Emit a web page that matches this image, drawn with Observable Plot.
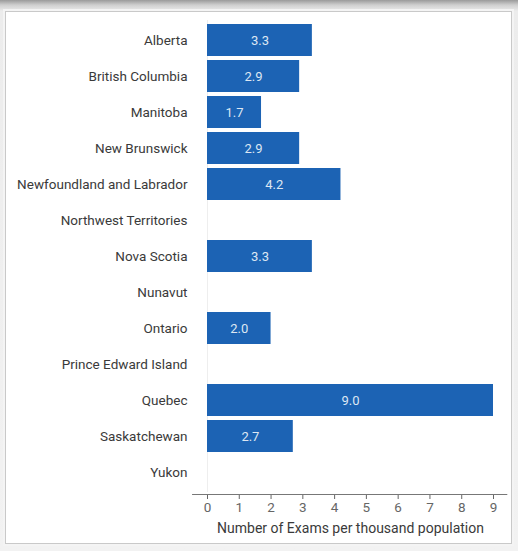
<!DOCTYPE html>
<html>
<head>
<meta charset="utf-8">
<script src="https://cdn.jsdelivr.net/npm/d3@7"></script>
<script src="https://cdn.jsdelivr.net/npm/@observablehq/plot@0.6"></script>
<style>
  html, body { margin: 0; padding: 0; width: 518px; height: 551px; overflow: hidden; }
  #frame { position: absolute; left: 0; top: 0; width: 518px; height: 551px;
    background: linear-gradient(to bottom, #9a9a9a 0px, #cfcfcf 5px, #ececec 11px, #f2f2f2 100%); }
  #panel { position: absolute; left: 5px; top: 11px; width: 505px; height: 531px;
    border: 1px solid #c9c9c9; background: #fff; box-shadow: 0 0 0 2px #f4f4f4; }
  #chart { position: absolute; left: 0; top: 0; }
  svg { font-family: Roboto, sans-serif; }
</style>
</head>
<body>
<div id="frame"><div id="panel"></div></div>
<div id="chart"></div>
<script>
const provinces = ["Alberta", "British Columbia", "Manitoba", "New Brunswick", "Newfoundland and Labrador",
  "Northwest Territories", "Nova Scotia", "Nunavut", "Ontario", "Prince Edward Island",
  "Quebec", "Saskatchewan", "Yukon"];
const values = [3.3, 2.9, 1.7, 2.9, 4.2, null, 3.3, null, 2.0, null, 9.0, 2.7, null];
const xTicks = [0, 1, 2, 3, 4, 5, 6, 7, 8, 9];
const xLabel = "Number of Exams per thousand population";

const data = provinces.map((p, i) => ({province: p, value: values[i]}));
const bars = data.filter(d => d.value != null);

const chart = Plot.plot({
  width: 518,
  height: 551,
  marginLeft: 207,
  marginRight: 25,
  marginTop: 20,
  marginBottom: 59,
  style: {background: "transparent", fontFamily: "Roboto, sans-serif"},
  x: {domain: [0, 9]},
  y: {domain: provinces, padding: 0.1},
  marks: [
    Plot.ruleX([0], {stroke: "#eeeeee"}),
    Plot.barX(bars, {x: "value", y: "province", fill: "#1c63b4"}),
    Plot.text(bars, {x: d => d.value / 2, y: "province", text: d => d.value.toFixed(1),
      fill: "#dde7f3", fontSize: 13}),
    Plot.ruleY(["Yukon"], {x1: -0.47, x2: 9.45, dy: 22, stroke: "#777", strokeWidth: 1.2}),
    Plot.axisY({tickSize: 0, tickPadding: 20, fontSize: 13.5, color: "#3a3a3a", label: null}),
    Plot.axisX({ticks: xTicks, tickFormat: d => String(d), tickSize: 4, tickPadding: 3, dy: 3,
      fontSize: 13.5, color: "#666", label: xLabel, labelAnchor: "center", labelArrow: "none", labelOffset: 40})
  ]
});
chart.querySelectorAll("[aria-label='x-axis label'] text").forEach(t => {
  t.setAttribute("font-size", 14); t.style.fill = "#3a3a3a";
});
document.getElementById("chart").appendChild(chart);
</script>
</body>
</html>
